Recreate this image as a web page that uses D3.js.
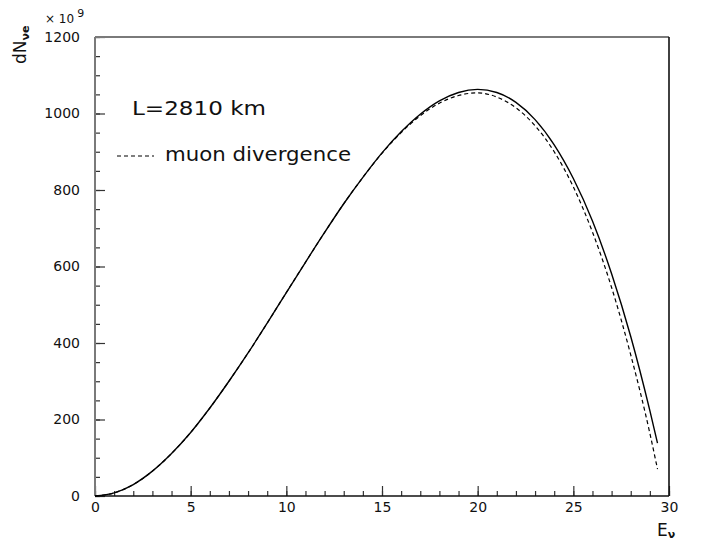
<!DOCTYPE html>
<html>
<head>
<meta charset="utf-8">
<script src="https://cdn.jsdelivr.net/npm/d3@7"></script>
<style>
body { margin: 0; background: #fff; }
text { font-family: "DejaVu Sans", sans-serif; fill: #111; }
</style>
</head>
<body>
<svg id="chart" width="706" height="544"></svg>
<script>
// neutrino energy (GeV) and flux values (x 10^9)
var energy = [0, 1, 2, 3, 4, 5, 6, 7, 8, 9, 10, 11, 12, 13, 14, 15, 16, 17, 18, 19, 20,
	21, 22, 23, 24, 25, 26, 27, 28, 29, 29.4];
var fluxNominal = [0, 8, 30, 65, 111, 166, 230, 300, 374, 452, 532, 611, 689, 764, 833, 897,
	952, 998, 1033, 1055, 1063, 1055, 1029, 984, 918, 830, 719, 581, 417, 223, 138];
var fluxDivergence = [0, 8, 30, 65, 111, 166, 230, 300, 374, 452, 532, 611, 689, 764, 833, 896,
	950, 994, 1027, 1047, 1054, 1043, 1015, 968, 900, 808, 690, 545, 369, 164, 70];

var xTicks = [0, 5, 10, 15, 20, 25, 30];
var yTicks = [0, 200, 400, 600, 800, 1000, 1200];

var svg = d3.select("#chart");
var plotLeft = 95, plotRight = 669, plotTop = 37, plotBottom = 496;

var x = d3.scaleLinear().domain([0, 30]).range([plotLeft, plotRight]);
var y = d3.scaleLinear().domain([0, 1200]).range([plotBottom, plotTop]);

var data = energy.map(function(e, i) {
	return { e: e, a: fluxNominal[i], b: fluxDivergence[i] };
});

// minor ticks
svg.append("g").attr("transform", "translate(0," + plotBottom + ")") //
.call(d3.axisBottom(x).tickValues(d3.range(0, 31, 1)).tickSize(-5).tickFormat(""));
svg.append("g").attr("transform", "translate(" + plotLeft + ",0)") //
.call(d3.axisLeft(y).tickValues(d3.range(0, 1201, 50)).tickSize(-5).tickFormat(""));

// major ticks + labels
svg.append("g").attr("class", "xaxis").attr("transform", "translate(0," + plotBottom + ")") //
.call(d3.axisBottom(x).tickValues(xTicks).tickSize(-10).tickPadding(6).tickFormat(d3.format("d")));
svg.append("g").attr("class", "yaxis").attr("transform", "translate(" + plotLeft + ",0)") //
.call(d3.axisLeft(y).tickValues(yTicks).tickSize(-10).tickPadding(15).tickFormat(d3.format("d")));

svg.selectAll(".domain").remove();
svg.selectAll(".tick line").attr("stroke", "#333").attr("stroke-width", 1.2);
svg.selectAll(".tick text").style("font-family", "DejaVu Sans, sans-serif")
	.style("font-size", "14px").attr("fill", "#1a1a1a");

// frame: left/top grey, right/bottom dark
svg.append("line").attr("x1", plotLeft).attr("y1", plotBottom).attr("x2", plotLeft).attr("y2", plotTop)
	.attr("stroke", "#7a7a7a").attr("stroke-width", 2);
svg.append("line").attr("x1", plotLeft).attr("y1", plotTop).attr("x2", plotRight).attr("y2", plotTop)
	.attr("stroke", "#7a7a7a").attr("stroke-width", 2);
svg.append("line").attr("x1", plotRight).attr("y1", plotTop).attr("x2", plotRight).attr("y2", plotBottom)
	.attr("stroke", "#111").attr("stroke-width", 1.6);
svg.append("line").attr("x1", plotLeft).attr("y1", plotBottom).attr("x2", plotRight).attr("y2", plotBottom)
	.attr("stroke", "#111").attr("stroke-width", 1.6);

// curves
var lineA = d3.line().x(function(d) { return x(d.e); }).y(function(d) { return y(d.a); })
	.curve(d3.curveMonotoneX);
var lineB = d3.line().x(function(d) { return x(d.e); }).y(function(d) { return y(d.b); })
	.curve(d3.curveMonotoneX);

svg.append("path").datum(data).attr("d", lineA).attr("fill", "none")
	.attr("stroke", "#000").attr("stroke-width", 1.4);
svg.append("path").datum(data).attr("d", lineB).attr("fill", "none")
	.attr("stroke", "#000").attr("stroke-width", 1.2).attr("stroke-dasharray", "4,3");

// texts
svg.append("text").attr("x", 132).attr("y", 115).attr("textLength", 134)
	.attr("lengthAdjust", "spacingAndGlyphs").style("font-size", "19px").text("L=2810 km");

svg.append("line").attr("x1", 117).attr("y1", 156).attr("x2", 154).attr("y2", 156)
	.attr("stroke", "#000").attr("stroke-width", 1.2).attr("stroke-dasharray", "4,3");
svg.append("text").attr("x", 165).attr("y", 161).attr("textLength", 186)
	.attr("lengthAdjust", "spacingAndGlyphs").style("font-size", "19px").text("muon divergence");

// multiplier
var mult = svg.append("text").attr("x", 45).attr("y", 23).style("font-size", "12px");
mult.append("tspan").text("× 10");
mult.append("tspan").attr("dx", 3).attr("dy", -6).style("font-size", "11px").text("9");

// y title
var yt = svg.append("text").attr("transform", "translate(26,64) rotate(-90)")
	.style("font-size", "17px");
yt.append("tspan").text("dN");
yt.append("tspan").attr("dy", 3).style("font-size", "11px").style("font-weight", "bold").text("νe");

// x title
var xt = svg.append("text").attr("x", 657).attr("y", 536).style("font-size", "17px");
xt.append("tspan").text("E");
xt.append("tspan").attr("dy", 2).style("font-size", "11px").style("font-weight", "bold").text("ν");
</script>
</body>
</html>
